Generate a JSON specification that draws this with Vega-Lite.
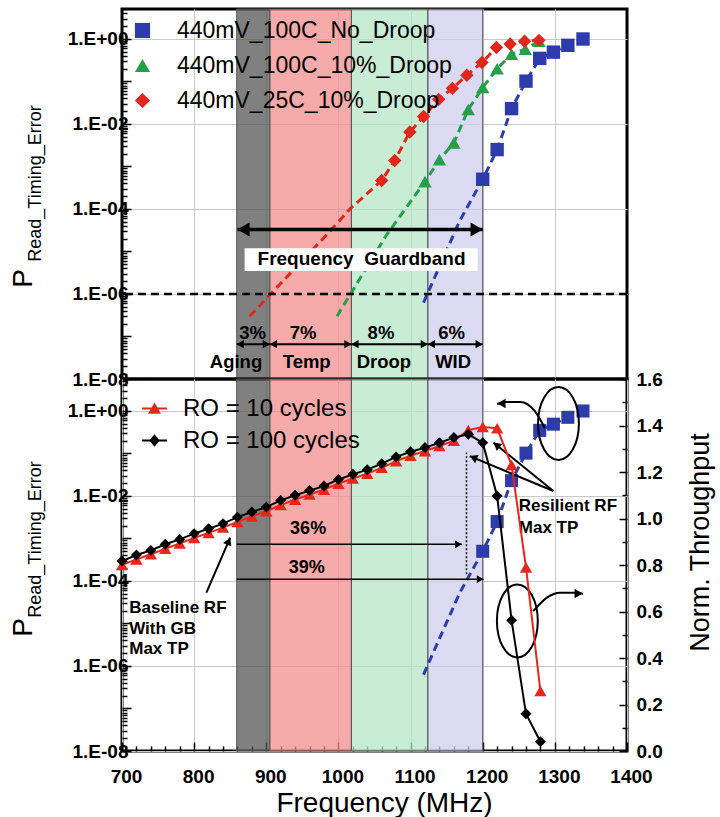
{
"$schema": "https://vega.github.io/schema/vega-lite/v6.json",
"padding": {"left": 7, "top": 6, "right": 2, "bottom": 2},
"background": "white",
"spacing": 0,
"bounds": "flush",
"config": {
  "font": "Liberation Sans",
  "view": {"stroke": "black", "strokeWidth": 3},
  "point": {"opacity": 1},
  "text": {"font": "Liberation Sans"},
  "axis": {"labelFont": "Liberation Sans", "titleFont": "Liberation Sans"},
  "legend": {"labelFont": "Liberation Sans", "labelLimit": 500}
},
"datasets": {
  "bands": [
    {"band": "Aging", "f1": 859, "f2": 905},
    {"band": "Temp", "f1": 905, "f2": 1018},
    {"band": "Droop", "f1": 1018, "f2": 1124},
    {"band": "WID", "f1": 1124, "f2": 1200}
  ],
  "fit": [
    {"series": "440mV_100C_No_Droop", "f": 1118, "p": 6.3e-7, "m": 0},
    {"series": "440mV_100C_No_Droop", "f": 1168, "p": 5.2e-5, "m": 0},
    {"series": "440mV_100C_No_Droop", "f": 1200, "p": 5.0e-4, "m": 1},
    {"series": "440mV_100C_No_Droop", "f": 1220, "p": 2.5e-3, "m": 1},
    {"series": "440mV_100C_No_Droop", "f": 1240, "p": 2.3e-2, "m": 1},
    {"series": "440mV_100C_No_Droop", "f": 1260, "p": 0.102, "m": 1},
    {"series": "440mV_100C_No_Droop", "f": 1279, "p": 0.35, "m": 1},
    {"series": "440mV_100C_No_Droop", "f": 1298, "p": 0.49, "m": 1},
    {"series": "440mV_100C_No_Droop", "f": 1318, "p": 0.71, "m": 1},
    {"series": "440mV_100C_No_Droop", "f": 1339, "p": 1.0, "m": 1},
    {"series": "440mV_100C_10%_Droop", "f": 998, "p": 3.0e-7, "m": 0},
    {"series": "440mV_100C_10%_Droop", "f": 1067, "p": 2.5e-5, "m": 0},
    {"series": "440mV_100C_10%_Droop", "f": 1120, "p": 4.4e-4, "m": 1},
    {"series": "440mV_100C_10%_Droop", "f": 1140, "p": 1.45e-3, "m": 1},
    {"series": "440mV_100C_10%_Droop", "f": 1160, "p": 3.6e-3, "m": 1},
    {"series": "440mV_100C_10%_Droop", "f": 1180, "p": 2.2e-2, "m": 1},
    {"series": "440mV_100C_10%_Droop", "f": 1200, "p": 7.2e-2, "m": 1},
    {"series": "440mV_100C_10%_Droop", "f": 1220, "p": 0.20, "m": 1},
    {"series": "440mV_100C_10%_Droop", "f": 1240, "p": 0.44, "m": 1},
    {"series": "440mV_100C_10%_Droop", "f": 1259, "p": 0.575, "m": 1},
    {"series": "440mV_100C_10%_Droop", "f": 1278, "p": 0.89, "m": 1},
    {"series": "440mV_25C_10%_Droop", "f": 877, "p": 3.0e-7, "m": 0},
    {"series": "440mV_25C_10%_Droop", "f": 984, "p": 2.5e-5, "m": 0},
    {"series": "440mV_25C_10%_Droop", "f": 1016, "p": 1.0e-4, "m": 0},
    {"series": "440mV_25C_10%_Droop", "f": 1060, "p": 4.7e-4, "m": 1},
    {"series": "440mV_25C_10%_Droop", "f": 1078, "p": 1.38e-3, "m": 1},
    {"series": "440mV_25C_10%_Droop", "f": 1099, "p": 6.5e-3, "m": 1},
    {"series": "440mV_25C_10%_Droop", "f": 1118, "p": 1.5e-2, "m": 1},
    {"series": "440mV_25C_10%_Droop", "f": 1139, "p": 3.8e-2, "m": 1},
    {"series": "440mV_25C_10%_Droop", "f": 1158, "p": 6.9e-2, "m": 1},
    {"series": "440mV_25C_10%_Droop", "f": 1178, "p": 0.14, "m": 1},
    {"series": "440mV_25C_10%_Droop", "f": 1199, "p": 0.28, "m": 1},
    {"series": "440mV_25C_10%_Droop", "f": 1219, "p": 0.63, "m": 1},
    {"series": "440mV_25C_10%_Droop", "f": 1238, "p": 0.76, "m": 1},
    {"series": "440mV_25C_10%_Droop", "f": 1258, "p": 0.89, "m": 1},
    {"series": "440mV_25C_10%_Droop", "f": 1278, "p": 0.93, "m": 1}
  ],
  "top_text": [
    {"f": 881, "p": 1.23e-7, "t": "3%"},
    {"f": 951, "p": 1.23e-7, "t": "7%"},
    {"f": 1059, "p": 1.23e-7, "t": "8%"},
    {"f": 1157, "p": 1.23e-7, "t": "6%"},
    {"f": 858, "p": 2.5e-8, "t": "Aging"},
    {"f": 956, "p": 2.5e-8, "t": "Temp"},
    {"f": 1063, "p": 2.5e-8, "t": "Droop"},
    {"f": 1159, "p": 2.5e-8, "t": "WID"}
  ],
  "gb_box": [{"f1": 870, "f2": 1193, "p1": 3.5e-6, "p2": 1.2e-5}],
  "gb_text": [{"f": 1032, "p": 6.6e-6, "t": "Frequency\u00a0 Guardband"}],
  "hline": [{"p": 1e-6}],
  "top_arrows": [
    {"f1": 860, "f2": 1200, "p": 3.3e-5, "k": "big"},
    {"f1": 859, "f2": 905, "p": 6.6e-8, "k": "small"},
    {"f1": 905, "f2": 1018, "p": 6.6e-8, "k": "small"},
    {"f1": 1018, "f2": 1124, "p": 6.6e-8, "k": "small"},
    {"f1": 1124, "f2": 1200, "p": 6.6e-8, "k": "small"}
  ],
  "pct_arrows": [
    {"f1": 859, "f2": 1171, "p": 7.3e-4},
    {"f1": 859, "f2": 1201, "p": 1.1e-4}
  ],
  "pct_text": [
    {"f": 958, "p": 1.66e-3, "t": "36%"},
    {"f": 956, "p": 2.04e-4, "t": "39%"}
  ],
  "dotted": [{"f": 1177.5, "p1": 1.45e-4, "p2": 0.105}],
  "note_text": [
    {"f": 710, "p": 2.34e-5, "t": "Baseline RF"},
    {"f": 710, "p": 7.4e-6, "t": "With GB"},
    {"f": 710, "p": 2.5e-6, "t": "Max TP"},
    {"f": 1250, "p": 5.8e-3, "t": "Resilient RF"},
    {"f": 1250, "p": 1.78e-3, "t": "Max TP"}
  ],
  "diag": [
    {"a": "base", "f1": 817, "p1": 5.3e-5, "f2": 850, "p2": 1.05e-3},
    {"a": "r1", "f1": 1298, "p1": 1.31e-2, "f2": 1182, "p2": 8.7e-2},
    {"a": "r2", "f1": 1298, "p1": 1.31e-2, "f2": 1215, "p2": 0.18}
  ],
  "ellipses": [
    {"e": "blue", "f": 1305, "p": 0.508},
    {"e": "ro", "f": 1248, "p": 1.15e-5}
  ],
  "curves": [
    {"c": 1, "f": 1220, "p": 1.46},
    {"c": 1, "f": 1231, "p": 1.62},
    {"c": 1, "f": 1252, "p": 1.62},
    {"c": 1, "f": 1272, "p": 1.0},
    {"c": 1, "f": 1286, "p": 0.398},
    {"c": 2, "f": 1270, "p": 1.95e-5},
    {"c": 2, "f": 1289, "p": 4.07e-5},
    {"c": 2, "f": 1307, "p": 5.3e-5},
    {"c": 2, "f": 1326, "p": 5.3e-5},
    {"c": 2, "f": 1339, "p": 5.0e-5}
  ],
  "curve_heads": [
    {"c": 1, "f": 1226, "p": 1.5},
    {"c": 2, "f": 1333, "p": 5.1e-5}
  ],
  "ro": [
    {"series": "RO = 100 cycles", "f": 700, "t": 0.817},
    {"series": "RO = 100 cycles", "f": 720, "t": 0.843},
    {"series": "RO = 100 cycles", "f": 740, "t": 0.863},
    {"series": "RO = 100 cycles", "f": 760, "t": 0.889},
    {"series": "RO = 100 cycles", "f": 780, "t": 0.910},
    {"series": "RO = 100 cycles", "f": 800, "t": 0.935},
    {"series": "RO = 100 cycles", "f": 820, "t": 0.956},
    {"series": "RO = 100 cycles", "f": 840, "t": 0.978},
    {"series": "RO = 100 cycles", "f": 860, "t": 1.006},
    {"series": "RO = 100 cycles", "f": 880, "t": 1.028},
    {"series": "RO = 100 cycles", "f": 900, "t": 1.049},
    {"series": "RO = 100 cycles", "f": 920, "t": 1.078},
    {"series": "RO = 100 cycles", "f": 940, "t": 1.100},
    {"series": "RO = 100 cycles", "f": 960, "t": 1.120},
    {"series": "RO = 100 cycles", "f": 980, "t": 1.140},
    {"series": "RO = 100 cycles", "f": 1000, "t": 1.168},
    {"series": "RO = 100 cycles", "f": 1020, "t": 1.190},
    {"series": "RO = 100 cycles", "f": 1040, "t": 1.210},
    {"series": "RO = 100 cycles", "f": 1060, "t": 1.236},
    {"series": "RO = 100 cycles", "f": 1080, "t": 1.265},
    {"series": "RO = 100 cycles", "f": 1100, "t": 1.287},
    {"series": "RO = 100 cycles", "f": 1120, "t": 1.305},
    {"series": "RO = 100 cycles", "f": 1140, "t": 1.326},
    {"series": "RO = 100 cycles", "f": 1160, "t": 1.348},
    {"series": "RO = 100 cycles", "f": 1180, "t": 1.362},
    {"series": "RO = 100 cycles", "f": 1200, "t": 1.326},
    {"series": "RO = 100 cycles", "f": 1220, "t": 1.097},
    {"series": "RO = 100 cycles", "f": 1240, "t": 0.562},
    {"series": "RO = 100 cycles", "f": 1260, "t": 0.160},
    {"series": "RO = 100 cycles", "f": 1280, "t": 0.040},
    {"series": "RO = 10 cycles", "f": 700, "t": 0.800},
    {"series": "RO = 10 cycles", "f": 720, "t": 0.824},
    {"series": "RO = 10 cycles", "f": 740, "t": 0.846},
    {"series": "RO = 10 cycles", "f": 760, "t": 0.870},
    {"series": "RO = 10 cycles", "f": 780, "t": 0.893},
    {"series": "RO = 10 cycles", "f": 800, "t": 0.916},
    {"series": "RO = 10 cycles", "f": 820, "t": 0.938},
    {"series": "RO = 10 cycles", "f": 840, "t": 0.961},
    {"series": "RO = 10 cycles", "f": 860, "t": 0.985},
    {"series": "RO = 10 cycles", "f": 880, "t": 1.009},
    {"series": "RO = 10 cycles", "f": 900, "t": 1.031},
    {"series": "RO = 10 cycles", "f": 920, "t": 1.058},
    {"series": "RO = 10 cycles", "f": 940, "t": 1.081},
    {"series": "RO = 10 cycles", "f": 960, "t": 1.103},
    {"series": "RO = 10 cycles", "f": 980, "t": 1.124},
    {"series": "RO = 10 cycles", "f": 1000, "t": 1.150},
    {"series": "RO = 10 cycles", "f": 1020, "t": 1.172},
    {"series": "RO = 10 cycles", "f": 1040, "t": 1.193},
    {"series": "RO = 10 cycles", "f": 1060, "t": 1.218},
    {"series": "RO = 10 cycles", "f": 1080, "t": 1.247},
    {"series": "RO = 10 cycles", "f": 1100, "t": 1.270},
    {"series": "RO = 10 cycles", "f": 1120, "t": 1.290},
    {"series": "RO = 10 cycles", "f": 1140, "t": 1.312},
    {"series": "RO = 10 cycles", "f": 1160, "t": 1.335},
    {"series": "RO = 10 cycles", "f": 1180, "t": 1.380},
    {"series": "RO = 10 cycles", "f": 1200, "t": 1.394},
    {"series": "RO = 10 cycles", "f": 1220, "t": 1.388},
    {"series": "RO = 10 cycles", "f": 1240, "t": 1.230},
    {"series": "RO = 10 cycles", "f": 1260, "t": 0.790},
    {"series": "RO = 10 cycles", "f": 1280, "t": 0.258}
  ],
  "ptitle": [{"p": 0.001}]
},
"resolve": {"scale": {"color": "independent", "shape": "independent", "fill": "independent"}},
"vconcat": [
 {
  "width": 505, "height": 370,
  "layer": [
     {"data": {"name": "bands"},
      "mark": {"type": "rect", "fillOpacity": 0.75, "stroke": "#555555", "strokeWidth": 1},
      "encoding": {
        "x": {"field": "f1", "type": "quantitative", "scale": {"domain": [700, 1400], "nice": false, "zero": false},
              "axis": {"orient": "bottom", "labels": false, "ticks": false, "domain": false, "title": null, "grid": true, "gridColor": "#c8c8c8", "values": [800, 900, 1000, 1100, 1200, 1300]}},
        "x2": {"field": "f2"},
        "fill": {"field": "band", "type": "nominal", "scale": {"domain": ["Aging", "Temp", "Droop", "WID"], "range": ["#565656", "#f38e8e", "#b6e6c6", "#ceceee"]}, "legend": null}
      }},
     {"data": {"name": "fit"}, "transform": [{"filter": "datum.series == '440mV_100C_No_Droop'"}],
      "mark": {"type": "line", "color": "#2d3caa", "strokeDash": [8, 5], "strokeWidth": 3},
      "encoding": {
        "x": {"field": "f", "type": "quantitative", "axis": null},
        "y": {"field": "p", "type": "quantitative", "scale": {"type": "log", "domain": [1e-8, 5.08], "nice": false},
              "axis": {
                "orient": "left",
                "values": [1e-8, 1e-6, 1e-4, 0.01, 1],
                "labelExpr": "'1.E' + (datum.value > 0.5 ? '+00' : '-0' + round(-log(datum.value)/LN10))",
                "labelFontSize": 19, "labelFontWeight": "bold", "labelColor": "black", "labelPadding": 3,
                "tickColor": "black", "tickWidth": 1.5, "tickSize": -9,
                "grid": true, "gridColor": "#c8c8c8",
                "domain": false,
                "title": "Read_Timing_Error", "titleFontSize": 18, "titleFontWeight": "normal", "titleColor": "black",
                "titleX": -87, "titleY": 174, "titleAngle": 270, "titleAlign": "center", "titleBaseline": "middle"
              }}
      }},
     {"data": {"name": "fit"}, "transform": [{"filter": "datum.series == '440mV_100C_10%_Droop'"}],
      "mark": {"type": "line", "color": "#23a048", "strokeDash": [8, 5], "strokeWidth": 3},
      "encoding": {"x": {"field": "f", "type": "quantitative", "axis": null},
        "y": {"field": "p", "type": "quantitative", "scale": {"type": "log", "domain": [1e-8, 5.08], "nice": false},
              "axis": {"orient": "left", "values": [1e-7, 1e-5, 0.001, 0.1], "labels": false, "domain": false, "grid": false, "title": null, "tickColor": "black", "tickWidth": 1.5, "tickSize": -9}}}},
     {"data": {"name": "fit"}, "transform": [{"filter": "datum.series == '440mV_25C_10%_Droop'"}],
      "mark": {"type": "line", "color": "#e3261b", "strokeDash": [8, 5], "strokeWidth": 3},
      "encoding": {"x": {"field": "f", "type": "quantitative", "axis": null},
        "y": {"field": "p", "type": "quantitative", "scale": {"type": "log", "domain": [1e-8, 5.08], "nice": false},
              "axis": {"orient": "left", "values": [2e-8,3e-8,4e-8,5e-8,6e-8,7e-8,8e-8,9e-8,2e-7,3e-7,4e-7,5e-7,6e-7,7e-7,8e-7,9e-7,2e-6,3e-6,4e-6,5e-6,6e-6,7e-6,8e-6,9e-6,2e-5,3e-5,4e-5,5e-5,6e-5,7e-5,8e-5,9e-5,0.0002,0.0003,0.0004,0.0005,0.0006,0.0007,0.0008,0.0009,0.002,0.003,0.004,0.005,0.006,0.007,0.008,0.009,0.02,0.03,0.04,0.05,0.06,0.07,0.08,0.09,0.2,0.3,0.4,0.5,0.6,0.7,0.8,0.9,2,3,4,5], "labels": false, "domain": false, "grid": false, "title": null, "tickColor": "black", "tickWidth": 1.5, "tickSize": -5}}}},
     {"data": {"name": "fit"}, "transform": [{"filter": "datum.m == 1"}],
      "mark": {"type": "point", "filled": true, "size": 180},
      "encoding": {
        "x": {"field": "f", "type": "quantitative", "axis": null},
        "y": {"field": "p", "type": "quantitative", "scale": {"type": "log", "domain": [1e-8, 5.08], "nice": false}, "axis": null},
        "color": {"field": "series", "type": "nominal",
                  "scale": {"domain": ["440mV_100C_No_Droop", "440mV_100C_10%_Droop", "440mV_25C_10%_Droop"], "range": ["#2d3caa", "#23a048", "#e3261b"]},
                  "legend": {"orient": "none", "legendX": 9, "legendY": 10, "title": null, "labelFontSize": 23, "labelColor": "black", "symbolSize": 230, "symbolStrokeWidth": 0, "rowPadding": 11, "labelOffset": 23, "padding": 0}},
        "shape": {"field": "series", "type": "nominal",
                  "scale": {"domain": ["440mV_100C_No_Droop", "440mV_100C_10%_Droop", "440mV_25C_10%_Droop"], "range": ["square", "triangle-up", "diamond"]}}
      }},
     {"data": {"name": "hline"}, "mark": {"type": "rule", "color": "black", "strokeDash": [8, 5], "strokeWidth": 2.5},
      "encoding": {"y": {"field": "p", "type": "quantitative", "scale": {"type": "log", "domain": [1e-8, 5.08], "nice": false}, "axis": null}}},
     {"data": {"name": "gb_box"}, "mark": {"type": "rect", "color": "white"},
      "encoding": {"x": {"field": "f1", "type": "quantitative", "axis": null}, "x2": {"field": "f2"},
                   "y": {"field": "p1", "type": "quantitative", "scale": {"type": "log", "domain": [1e-8, 5.08], "nice": false}, "axis": null}, "y2": {"field": "p2"}}},
     {"data": {"name": "gb_text"}, "mark": {"type": "text", "fontSize": 19, "fontWeight": "bold", "color": "black", "align": "center", "baseline": "middle"},
      "encoding": {"x": {"field": "f", "type": "quantitative", "axis": null}, "y": {"field": "p", "type": "quantitative", "scale": {"type": "log", "domain": [1e-8, 5.08], "nice": false}, "axis": null}, "text": {"field": "t"}}},
     {"data": {"name": "top_arrows"}, "transform": [{"filter": "datum.k == 'big'"}], "mark": {"type": "rule", "color": "black", "strokeWidth": 3.5},
      "encoding": {"x": {"field": "f1", "type": "quantitative", "axis": null}, "x2": {"field": "f2"}, "y": {"field": "p", "type": "quantitative", "scale": {"type": "log", "domain": [1e-8, 5.08], "nice": false}, "axis": null}}},
     {"data": {"name": "top_arrows"}, "transform": [{"filter": "datum.k == 'small'"}], "mark": {"type": "rule", "color": "black", "strokeWidth": 2},
      "encoding": {"x": {"field": "f1", "type": "quantitative", "axis": null}, "x2": {"field": "f2"}, "y": {"field": "p", "type": "quantitative", "scale": {"type": "log", "domain": [1e-8, 5.08], "nice": false}, "axis": null}}},
     {"data": {"name": "top_arrows"}, "transform": [{"filter": "datum.k == 'big'"}], "mark": {"type": "point", "shape": "triangle-left", "filled": true, "color": "black", "size": 200, "xOffset": 6},
      "encoding": {"x": {"field": "f1", "type": "quantitative", "axis": null}, "y": {"field": "p", "type": "quantitative", "scale": {"type": "log", "domain": [1e-8, 5.08], "nice": false}, "axis": null}}},
     {"data": {"name": "top_arrows"}, "transform": [{"filter": "datum.k == 'big'"}], "mark": {"type": "point", "shape": "triangle-right", "filled": true, "color": "black", "size": 200, "xOffset": -6},
      "encoding": {"x": {"field": "f2", "type": "quantitative", "axis": null}, "y": {"field": "p", "type": "quantitative", "scale": {"type": "log", "domain": [1e-8, 5.08], "nice": false}, "axis": null}}},
     {"data": {"name": "top_arrows"}, "transform": [{"filter": "datum.k == 'small'"}], "mark": {"type": "point", "shape": "triangle-left", "filled": true, "color": "black", "size": 70, "xOffset": 3.5},
      "encoding": {"x": {"field": "f1", "type": "quantitative", "axis": null}, "y": {"field": "p", "type": "quantitative", "scale": {"type": "log", "domain": [1e-8, 5.08], "nice": false}, "axis": null}}},
     {"data": {"name": "top_arrows"}, "transform": [{"filter": "datum.k == 'small'"}], "mark": {"type": "point", "shape": "triangle-right", "filled": true, "color": "black", "size": 70, "xOffset": -3.5},
      "encoding": {"x": {"field": "f2", "type": "quantitative", "axis": null}, "y": {"field": "p", "type": "quantitative", "scale": {"type": "log", "domain": [1e-8, 5.08], "nice": false}, "axis": null}}},
     {"data": {"name": "top_text"}, "mark": {"type": "text", "fontSize": 18.5, "fontWeight": "bold", "color": "black", "align": "center", "baseline": "middle"},
      "encoding": {"x": {"field": "f", "type": "quantitative", "axis": null}, "y": {"field": "p", "type": "quantitative", "scale": {"type": "log", "domain": [1e-8, 5.08], "nice": false}, "axis": null}, "text": {"field": "t"}}},
     {"data": {"name": "ptitle"}, "mark": {"type": "point", "opacity": 0},
      "encoding": {"y": {"field": "p", "type": "quantitative", "scale": {"type": "log", "domain": [1e-8, 5.08], "nice": false},
        "axis": {"orient": "left", "title": "P", "labels": false, "ticks": false, "domain": false, "grid": false,
                 "titleFontSize": 28, "titleFontWeight": "normal", "titleColor": "black", "titleX": -99, "titleY": 269, "titleAngle": 270, "titleAlign": "center", "titleBaseline": "middle"}}}}
  ],
  "resolve": {"scale": {"y": "independent"}, "axis": {"x": "independent"}}
 },
 {
  "width": 505, "height": 372,
  "layer": [
     {"data": {"name": "bands"},
      "mark": {"type": "rect", "fillOpacity": 0.75, "stroke": "#555555", "strokeWidth": 1},
      "encoding": {
        "x": {"field": "f1", "type": "quantitative", "scale": {"domain": [700, 1400], "nice": false, "zero": false},
              "axis": {
                "orient": "bottom",
                "values": [700, 800, 900, 1000, 1100, 1200, 1300, 1400],
                "format": "d",
                "labelFlush": false, "labelOverlap": false, "labelOffset": 4,
                "labelFontSize": 19, "labelFontWeight": "bold", "labelColor": "black", "labelPadding": 25,
                "tickColor": "black", "tickWidth": 1.5, "tickSize": -9,
                "grid": true, "gridColor": "#c8c8c8",
                "domain": false,
                "title": "Frequency (MHz)", "titleFontSize": 28, "titleFontWeight": "normal", "titleColor": "black", "titlePadding": 3, "titleX": 262
              }},
        "x2": {"field": "f2"},
        "fill": {"field": "band", "type": "nominal", "scale": {"domain": ["Aging", "Temp", "Droop", "WID"], "range": ["#565656", "#f38e8e", "#b6e6c6", "#ceceee"]}, "legend": null}
      }},
     {"data": {"name": "fit"}, "transform": [{"filter": "datum.series == '440mV_100C_No_Droop'"}],
      "mark": {"type": "line", "color": "#2d3caa", "strokeDash": [8, 5], "strokeWidth": 3},
      "encoding": {
        "x": {"field": "f", "type": "quantitative",
              "axis": {"orient": "bottom", "values": [720,740,760,780,820,840,860,880,920,940,960,980,1020,1040,1060,1080,1120,1140,1160,1180,1220,1240,1260,1280,1320,1340,1360,1380], "labels": false, "domain": false, "grid": false, "title": null, "tickColor": "black", "tickWidth": 1.5, "tickSize": -5}},
        "y": {"field": "p", "type": "quantitative", "scale": {"type": "log", "domain": [1e-8, 5.66], "nice": false},
              "axis": {
                "orient": "left",
                "values": [1e-8, 1e-6, 1e-4, 0.01, 1],
                "labelExpr": "'1.E' + (datum.value > 0.5 ? '+00' : '-0' + round(-log(datum.value)/LN10))",
                "labelFontSize": 19, "labelFontWeight": "bold", "labelColor": "black", "labelPadding": 3,
                "tickColor": "black", "tickWidth": 1.5, "tickSize": -9,
                "grid": true, "gridColor": "#c8c8c8",
                "domain": false,
                "title": "Read_Timing_Error", "titleFontSize": 18, "titleFontWeight": "normal", "titleColor": "black",
                "titleX": -87, "titleY": 160, "titleAngle": 270, "titleAlign": "center", "titleBaseline": "middle"
              }}
      }},
     {"data": {"name": "fit"}, "transform": [{"filter": "datum.series == '440mV_100C_No_Droop' && datum.m == 1"}],
      "mark": {"type": "point", "shape": "square", "filled": true, "size": 170, "color": "#2d3caa"},
      "encoding": {"x": {"field": "f", "type": "quantitative", "axis": null},
        "y": {"field": "p", "type": "quantitative", "scale": {"type": "log", "domain": [1e-8, 5.66], "nice": false},
              "axis": {"orient": "left", "values": [1e-7, 1e-5, 0.001, 0.1], "labels": false, "domain": false, "grid": false, "title": null, "tickColor": "black", "tickWidth": 1.5, "tickSize": -9}}}},
     {"data": {"name": "pct_arrows"}, "mark": {"type": "rule", "color": "black", "strokeWidth": 1.5},
      "encoding": {"x": {"field": "f1", "type": "quantitative", "axis": null}, "x2": {"field": "f2"},
        "y": {"field": "p", "type": "quantitative", "scale": {"type": "log", "domain": [1e-8, 5.66], "nice": false},
              "axis": {"orient": "left", "values": [2e-8,3e-8,4e-8,5e-8,6e-8,7e-8,8e-8,9e-8,2e-7,3e-7,4e-7,5e-7,6e-7,7e-7,8e-7,9e-7,2e-6,3e-6,4e-6,5e-6,6e-6,7e-6,8e-6,9e-6,2e-5,3e-5,4e-5,5e-5,6e-5,7e-5,8e-5,9e-5,0.0002,0.0003,0.0004,0.0005,0.0006,0.0007,0.0008,0.0009,0.002,0.003,0.004,0.005,0.006,0.007,0.008,0.009,0.02,0.03,0.04,0.05,0.06,0.07,0.08,0.09,0.2,0.3,0.4,0.5,0.6,0.7,0.8,0.9,2,3,4,5], "labels": false, "domain": false, "grid": false, "title": null, "tickColor": "black", "tickWidth": 1.5, "tickSize": -5}}}},
     {"data": {"name": "pct_arrows"}, "mark": {"type": "point", "shape": "triangle-right", "filled": true, "color": "black", "size": 60, "xOffset": -3.3},
      "encoding": {"x": {"field": "f2", "type": "quantitative", "axis": null}, "y": {"field": "p", "type": "quantitative", "scale": {"type": "log", "domain": [1e-8, 5.66], "nice": false}, "axis": null}}},
     {"data": {"name": "pct_text"}, "mark": {"type": "text", "fontSize": 18, "fontWeight": "bold", "color": "black", "align": "center", "baseline": "middle"},
      "encoding": {"x": {"field": "f", "type": "quantitative", "axis": null}, "y": {"field": "p", "type": "quantitative", "scale": {"type": "log", "domain": [1e-8, 5.66], "nice": false}, "axis": null}, "text": {"field": "t"}}},
     {"data": {"name": "dotted"}, "mark": {"type": "rule", "color": "black", "strokeWidth": 1.5, "strokeDash": [2, 2]},
      "encoding": {"x": {"field": "f", "type": "quantitative", "axis": null}, "y": {"field": "p1", "type": "quantitative", "scale": {"type": "log", "domain": [1e-8, 5.66], "nice": false}, "axis": null}, "y2": {"field": "p2"}}},
     {"data": {"name": "note_text"}, "mark": {"type": "text", "fontSize": 17, "fontWeight": "bold", "color": "black", "align": "left", "baseline": "middle"},
      "encoding": {"x": {"field": "f", "type": "quantitative", "axis": null}, "y": {"field": "p", "type": "quantitative", "scale": {"type": "log", "domain": [1e-8, 5.66], "nice": false}, "axis": null}, "text": {"field": "t"}}},
     {"data": {"name": "diag"}, "mark": {"type": "rule", "color": "black", "strokeWidth": 2},
      "encoding": {"x": {"field": "f1", "type": "quantitative", "axis": null}, "x2": {"field": "f2"}, "y": {"field": "p1", "type": "quantitative", "scale": {"type": "log", "domain": [1e-8, 5.66], "nice": false}, "axis": null}, "y2": {"field": "p2"}}},
     {"data": {"name": "diag"}, "transform": [{"filter": "datum.a == 'base'"}], "mark": {"type": "point", "shape": "triangle-up", "filled": true, "color": "black", "size": 80, "angle": 23, "xOffset": -1.5, "yOffset": 3.6},
      "encoding": {"x": {"field": "f2", "type": "quantitative", "axis": null}, "y": {"field": "p2", "type": "quantitative", "scale": {"type": "log", "domain": [1e-8, 5.66], "nice": false}, "axis": null}}},
     {"data": {"name": "diag"}, "transform": [{"filter": "datum.a == 'r1'"}], "mark": {"type": "point", "shape": "triangle-up", "filled": true, "color": "black", "size": 80, "angle": 293, "xOffset": 3.6, "yOffset": 1.5},
      "encoding": {"x": {"field": "f2", "type": "quantitative", "axis": null}, "y": {"field": "p2", "type": "quantitative", "scale": {"type": "log", "domain": [1e-8, 5.66], "nice": false}, "axis": null}}},
     {"data": {"name": "diag"}, "transform": [{"filter": "datum.a == 'r2'"}], "mark": {"type": "point", "shape": "triangle-up", "filled": true, "color": "black", "size": 80, "angle": 309, "xOffset": 3.0, "yOffset": 2.4},
      "encoding": {"x": {"field": "f2", "type": "quantitative", "axis": null}, "y": {"field": "p2", "type": "quantitative", "scale": {"type": "log", "domain": [1e-8, 5.66], "nice": false}, "axis": null}}},
     {"data": {"name": "ellipses"}, "mark": {"type": "point", "shape": "M-0.56,0A0.56,1,0,1,0,0.56,0A0.56,1,0,1,0,-0.56,0Z", "filled": false, "color": "black", "strokeWidth": 2, "size": 5329},
      "encoding": {"x": {"field": "f", "type": "quantitative", "axis": null}, "y": {"field": "p", "type": "quantitative", "scale": {"type": "log", "domain": [1e-8, 5.66], "nice": false}, "axis": null}}},
     {"data": {"name": "curves"}, "mark": {"type": "line", "color": "black", "strokeWidth": 2, "interpolate": "monotone"},
      "encoding": {"x": {"field": "f", "type": "quantitative", "axis": null}, "y": {"field": "p", "type": "quantitative", "scale": {"type": "log", "domain": [1e-8, 5.66], "nice": false}, "axis": null}, "detail": {"field": "c", "type": "nominal"}}},
     {"data": {"name": "curve_heads"}, "transform": [{"filter": "datum.c == 1"}], "mark": {"type": "point", "shape": "triangle-left", "filled": true, "color": "black", "size": 90},
      "encoding": {"x": {"field": "f", "type": "quantitative", "axis": null}, "y": {"field": "p", "type": "quantitative", "scale": {"type": "log", "domain": [1e-8, 5.66], "nice": false}, "axis": null}}},
     {"data": {"name": "curve_heads"}, "transform": [{"filter": "datum.c == 2"}], "mark": {"type": "point", "shape": "triangle-right", "filled": true, "color": "black", "size": 90},
      "encoding": {"x": {"field": "f", "type": "quantitative", "axis": null}, "y": {"field": "p", "type": "quantitative", "scale": {"type": "log", "domain": [1e-8, 5.66], "nice": false}, "axis": null}}},
     {"data": {"name": "ptitle"}, "mark": {"type": "point", "opacity": 0},
      "encoding": {"y": {"field": "p", "type": "quantitative", "scale": {"type": "log", "domain": [1e-8, 5.66], "nice": false},
        "axis": {"orient": "left", "title": "P", "labels": false, "ticks": false, "domain": false, "grid": false,
                 "titleFontSize": 28, "titleFontWeight": "normal", "titleColor": "black", "titleX": -99, "titleY": 248, "titleAngle": 270, "titleAlign": "center", "titleBaseline": "middle"}}}},
     {"data": {"name": "ro"}, "transform": [{"filter": "datum.series == 'RO = 10 cycles'"}],
      "mark": {"type": "line", "color": "#e8261c", "strokeWidth": 2},
      "encoding": {
        "x": {"field": "f", "type": "quantitative", "axis": null},
        "y": {"field": "t", "type": "quantitative", "scale": {"domain": [0, 1.6], "nice": false, "zero": false},
              "axis": {
                "orient": "right",
                "values": [0, 0.2, 0.4, 0.6, 0.8, 1.0, 1.2, 1.4, 1.6],
                "format": ".1f",
                "labelFontSize": 19, "labelFontWeight": "bold", "labelColor": "black", "labelPadding": 17,
                "tickColor": "black", "tickWidth": 1.5, "tickSize": -8,
                "grid": false, "domain": false,
                "title": "Norm. Throughput", "titleFontSize": 27, "titleFontWeight": "normal", "titleColor": "black",
                "titleX": 73, "titleY": 163, "titleAngle": 270, "titleAlign": "center", "titleBaseline": "middle"
              }}
      }},
     {"data": {"name": "ro"}, "transform": [{"filter": "datum.series == 'RO = 10 cycles'"}],
      "mark": {"type": "point", "shape": "triangle-up", "filled": true, "color": "#e8261c", "size": 150},
      "encoding": {"x": {"field": "f", "type": "quantitative", "axis": null},
        "y": {"field": "t", "type": "quantitative", "scale": {"domain": [0, 1.6], "nice": false, "zero": false},
              "axis": {"orient": "right", "values": [0.1, 0.3, 0.5, 0.7, 0.9, 1.1, 1.3, 1.5], "labels": false, "domain": false, "grid": false, "title": null, "tickColor": "black", "tickWidth": 1.5, "tickSize": -5}}}},
     {"data": {"name": "ro"}, "transform": [{"filter": "datum.series == 'RO = 100 cycles'"}],
      "mark": {"type": "line", "color": "black", "strokeWidth": 2},
      "encoding": {"x": {"field": "f", "type": "quantitative", "axis": null}, "y": {"field": "t", "type": "quantitative", "scale": {"domain": [0, 1.6], "nice": false, "zero": false}, "axis": null}}},
     {"data": {"name": "ro"}, "transform": [{"filter": "datum.series == 'RO = 100 cycles'"}],
      "mark": {"type": "point", "shape": "diamond", "filled": true, "color": "black", "size": 120},
      "encoding": {"x": {"field": "f", "type": "quantitative", "axis": null}, "y": {"field": "t", "type": "quantitative", "scale": {"domain": [0, 1.6], "nice": false, "zero": false}, "axis": null}}},
     {"data": {"name": "ro"}, "transform": [{"filter": "datum.f < 0"}],
      "mark": {"type": "point", "filled": true},
      "encoding": {
        "x": {"field": "f", "type": "quantitative", "axis": null},
        "y": {"field": "t", "type": "quantitative", "scale": {"domain": [0, 1.6], "nice": false, "zero": false}, "axis": null},
        "color": {"field": "series", "type": "nominal", "scale": {"domain": ["RO = 10 cycles", "RO = 100 cycles"], "range": ["#e8261c", "#000000"]},
                  "legend": {"orient": "none", "legendX": 20, "legendY": 17, "title": null, "labelFontSize": 24, "labelColor": "black", "symbolSize": 625, "symbolStrokeWidth": 0, "rowPadding": 7, "labelOffset": 16, "padding": 0}},
        "shape": {"field": "series", "type": "nominal", "scale": {"domain": ["RO = 10 cycles", "RO = 100 cycles"],
                  "range": ["M-1,-0.08H1V0.08H-1Z M0,-0.48L0.52,0.42H-0.52Z", "M-1,-0.08H1V0.08H-1Z M0,-0.5L0.42,0L0,0.5L-0.42,0Z"]}}
      }}
  ],
  "resolve": {"scale": {"y": "independent"}, "axis": {"x": "independent"}}
 }
]
}
